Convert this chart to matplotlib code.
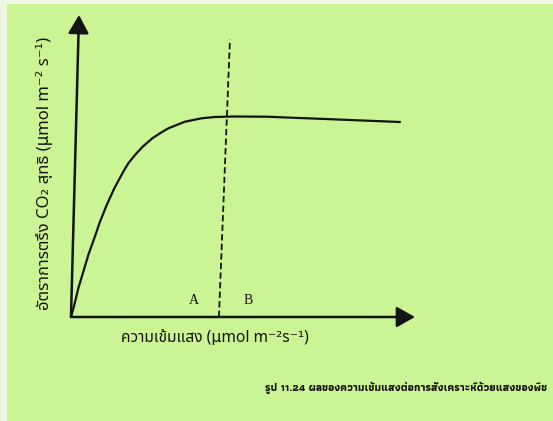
import matplotlib
matplotlib.use("Agg")
import matplotlib.pyplot as plt
from matplotlib.patches import Rectangle

# light-response curve (arbitrary units, 0-100 on both axes)
light = [0, 0.96, 2.12, 3.58, 5.03, 6.77, 8.43, 10.38, 12.59, 15.2, 16.66, 18.6, 20.84,
         23.63, 25.87, 28.28, 30.73, 33.14, 38.0, 41.86, 47.67, 56.9, 76.16, 95.64]
co2_rate = [0, 3.97, 9.5, 15.0, 20.53, 26.06, 31.56, 37.09, 42.6, 48.1, 50.89, 53.64, 56.39,
            59.17, 60.83, 62.48, 63.58, 64.67, 65.8, 66.23, 66.39, 66.32, 65.46, 64.57]

# boundary between region A and B (dashed, slightly slanted in the scan)
split_x = [43.0, 46.2]
split_y = [0, 91.9]

region_labels = ["A", "B"]
region_x = [35.8, 51.5]
region_y = [5.3, 5.3]

ylabel = "อัตราการตรึง CO₂ สุทธิ (µmol m⁻² s⁻¹)"
xlabel = "ความเข้มแสง (µmol m⁻²s⁻¹)"
caption = "รูป 11.24 ผลของความเข้มแสงต่อการสังเคราะห์ด้วยแสงของพืช"

BG = "#cbf594"
INK = "#141414"
W, H = 553, 421

fig = plt.figure(figsize=(W / 100, H / 100), dpi=100)
fig.patch.set_facecolor("#eef6e4")
fig.patches.append(Rectangle((7 / W, 0), 1 - 7 / W, 1 - 4 / H, transform=fig.transFigure,
                             facecolor=BG, edgecolor="none", zorder=-5))

ax = fig.add_axes([71 / W, 1 - 317 / H, 344 / W, 302 / H])
ax.set_zorder(2)
ax.set_xlim(0, 100)
ax.set_ylim(0, 100)
ax.axis("off")

ax.plot(light, co2_rate, color=INK, lw=1.6, solid_capstyle="round",
        solid_joinstyle="round", clip_on=False)
ax.plot(split_x, split_y, color=INK, lw=1.3, linestyle=(0, (3.5, 1.8)), clip_on=False)

for lab, x, y in zip(region_labels, region_x, region_y):
    ax.text(x, y, lab, ha="center", va="center", fontsize=10, family="Liberation Serif", color=INK)

arrow = dict(arrowstyle="-|>,head_length=0.8,head_width=0.45", mutation_scale=14,
             lw=1.8, color=INK, shrinkA=0, shrinkB=0)
ax.annotate("", xy=(1.0, 0.0), xytext=(0.0, 0.0), xycoords="axes fraction", arrowprops=arrow)
ax.annotate("", xy=(8 / 344, 1.0), xytext=(0.0, 0.0), xycoords="axes fraction", arrowprops=arrow)

thai = ["Noto Sans Thai", "DejaVu Sans"]
fig.text(45 / W, 1 - 173 / H, ylabel, rotation=90, ha="center", va="center",
         fontsize=12, family=thai, color=INK)
fig.text(121 / W, 1 - 338 / H, xlabel, ha="left", va="center",
         fontsize=11.2, family=thai, color=INK)
fig.text(547 / W, 1 - 388 / H, caption, ha="right", va="center", fontsize=7.8,
         family=["Athiti", "DejaVu Sans"], weight="bold", color=INK)

fig.savefig("out.png", facecolor=fig.get_facecolor())
